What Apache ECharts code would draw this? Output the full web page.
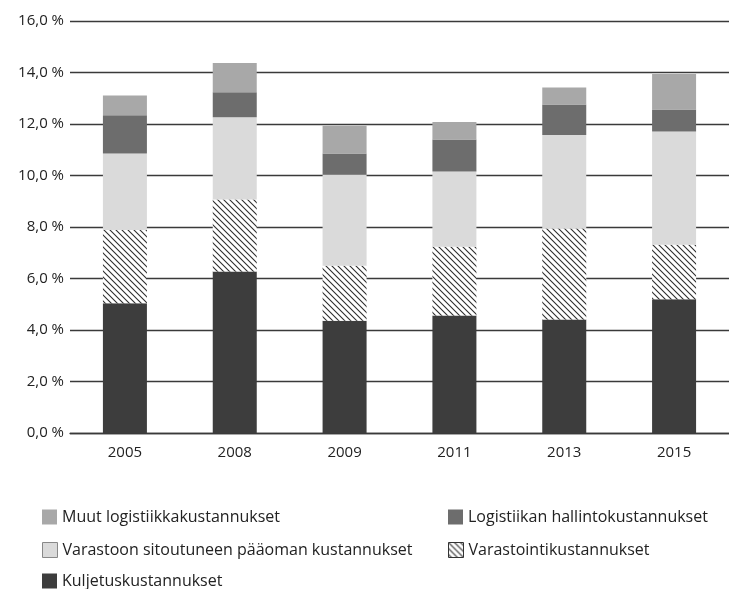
<!DOCTYPE html>
<html>
<head>
<meta charset="utf-8">
<script src="https://cdn.jsdelivr.net/npm/echarts@6/dist/echarts.min.js"></script>
<style>
  html, body { margin: 0; padding: 0; background: #fff; }
  #chart { width: 729px; height: 589px; }
</style>
</head>
<body>
<div id="chart"></div>
<script>
// vuodet
const years = ['2005', '2008', '2009', '2011', '2013', '2015']

// osuudet (% liikevaihdosta), alhaalta ylös
const kuljetus = [5.04, 6.27, 4.36, 4.56, 4.41, 5.19]
const varastointi = [2.84, 2.80, 2.14, 2.67, 3.53, 2.12]
const paaoma = [2.97, 3.19, 3.53, 2.93, 3.63, 4.40]
const hallinto = [1.49, 0.97, 0.82, 1.24, 1.19, 0.85]
const muut = [0.77, 1.14, 1.08, 0.68, 0.66, 1.38]

const yTicks = [0, 2, 4, 6, 8, 10, 12, 14, 16]

const names = {
  muut: 'Muut logistiikkakustannukset',
  hallinto: 'Logistiikan hallintokustannukset',
  paaoma: 'Varastoon sitoutuneen pääoman kustannukset',
  varastointi: 'Varastointikustannukset',
  kuljetus: 'Kuljetuskustannukset'
}

// vinoviivakuvio
function makeHatch() {
  const c = document.createElement('canvas')
  c.width = 6
  c.height = 6
  const ctx = c.getContext('2d')
  ctx.fillStyle = '#ffffff'
  ctx.fillRect(0, 0, 6, 6)
  ctx.strokeStyle = '#2e2e2e'
  ctx.lineWidth = 1.1
  ctx.beginPath()
  ctx.moveTo(-1, -1); ctx.lineTo(7, 7)
  ctx.moveTo(-1, 5); ctx.lineTo(1, 7)
  ctx.moveTo(5, -1); ctx.lineTo(7, 1)
  ctx.stroke()
  return c
}
const hatch = { image: makeHatch(), repeat: 'repeat' }

const chart = echarts.init(document.getElementById('chart'))
const font = '"Open Sans", sans-serif'
const textStyle = { fontFamily: font, fontSize: 15, color: '#222' }

function bar(name, data, color) {
  return {
    name,
    type: 'bar',
    stack: 'total',
    barWidth: 44,
    data,
    itemStyle: { color },
    emphasis: { disabled: true }
  }
}

function legendAt(left, top, name, extra) {
  return {
    left, top,
    padding: 0,
    orient: 'vertical',
    icon: 'rect',
    itemWidth: 15,
    itemHeight: 15,
    itemGap: 0,
    selectedMode: false,
    textStyle: Object.assign({}, textStyle, { fontSize: 16 }),
    data: [Object.assign({ name }, extra || {})]
  }
}

const option = {
  animation: false,
  grid: { left: 70, right: -6, top: 21, bottom: 156 },
  xAxis: {
    type: 'category',
    data: years,
    axisLine: { show: true, lineStyle: { color: '#3a3a3a', width: 1.3 } },
    axisTick: { show: false },
    axisLabel: Object.assign({}, textStyle, { margin: 12 })
  },
  yAxis: {
    type: 'value',
    min: yTicks[0],
    max: yTicks[yTicks.length - 1],
    interval: 2,
    axisLine: { show: false },
    axisTick: { show: false },
    axisLabel: Object.assign({}, textStyle, {
      margin: 6,
      formatter: v => v.toFixed(1).replace('.', ',') + ' %'
    }),
    splitLine: { lineStyle: { color: '#3a3a3a', width: 1.3 } }
  },
  legend: [
    legendAt(42, 509, names.muut),
    legendAt(448, 509, names.hallinto),
    legendAt(42, 542, names.paaoma, { itemStyle: { borderColor: '#888', borderWidth: 1 } }),
    legendAt(448, 542, names.varastointi, { itemStyle: { borderColor: '#333', borderWidth: 1 } }),
    legendAt(42, 573, names.kuljetus)
  ],
  series: [
    bar(names.kuljetus, kuljetus, '#3d3d3d'),
    bar(names.varastointi, varastointi, hatch),
    bar(names.paaoma, paaoma, '#dadada'),
    bar(names.hallinto, hallinto, '#6d6d6d'),
    bar(names.muut, muut, '#a8a8a8')
  ]
}

chart.setOption(option)
</script>
</body>
</html>
